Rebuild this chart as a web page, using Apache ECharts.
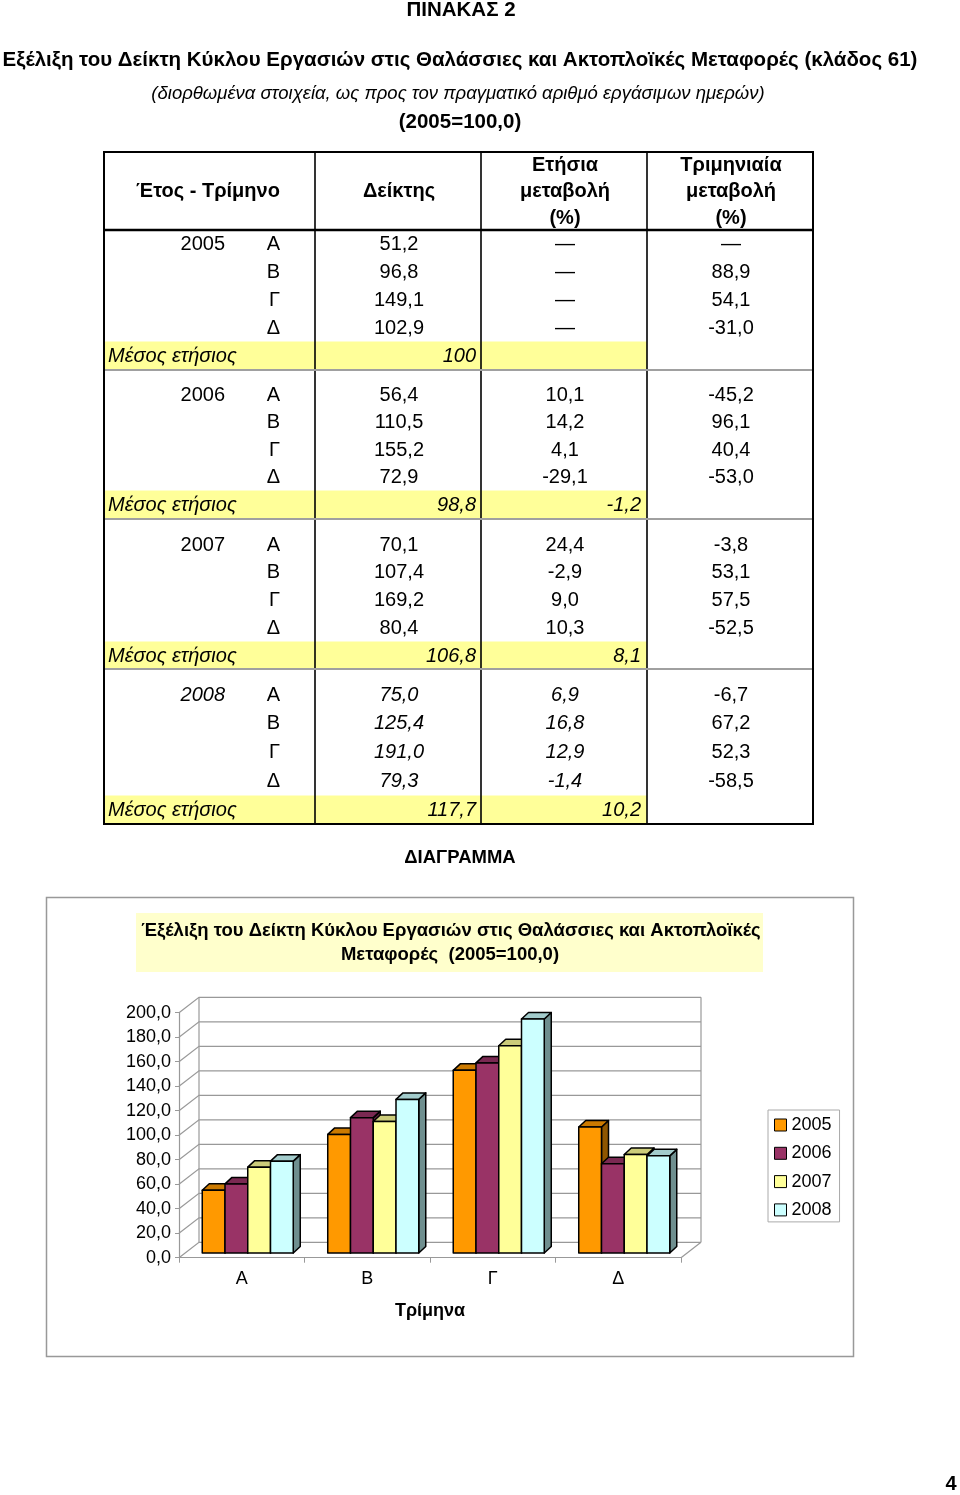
<!DOCTYPE html>
<html>
<head>
<meta charset="utf-8">
<script src="https://cdn.jsdelivr.net/npm/echarts@6/dist/echarts.min.js"></script>
<style>
html,body{margin:0;padding:0;background:#fff;}
#main{width:960px;height:1495px;}
</style>
</head>
<body>
<div id="main"></div>
<script>
// ---------------- DATA ----------------
const years = ['2005', '2006', '2007', '2008'];
const quarters = ['Α', 'Β', 'Γ', 'Δ'];
const index2005 = [51.2, 96.8, 149.1, 102.9];
const index2006 = [56.4, 110.5, 155.2, 72.9];
const index2007 = [70.1, 107.4, 169.2, 80.4];
const index2008 = [75.0, 125.4, 191.0, 79.3];
const annual2005 = [null, null, null, null];
const annual2006 = [10.1, 14.2, 4.1, -29.1];
const annual2007 = [24.4, -2.9, 9.0, 10.3];
const annual2008 = [6.9, 16.8, 12.9, -1.4];
const quarterly2005 = [null, 88.9, 54.1, -31.0];
const quarterly2006 = [-45.2, 96.1, 40.4, -53.0];
const quarterly2007 = [-3.8, 53.1, 57.5, -52.5];
const quarterly2008 = [-6.7, 67.2, 52.3, -58.5];
const meanIndex = [100, 98.8, 106.8, 117.7];
const meanAnnualChange = [null, -1.2, 8.1, 10.2];
const yTicks = [0, 20, 40, 60, 80, 100, 120, 140, 160, 180, 200];

const indexByYear = [index2005, index2006, index2007, index2008];
const annualByYear = [annual2005, annual2006, annual2007, annual2008];
const quarterlyByYear = [quarterly2005, quarterly2006, quarterly2007, quarterly2008];

// ---------------- STYLE ----------------
const FONT = '"Liberation Sans", Arial, sans-serif';
const barColors = [
  { front: '#FF9900', top: '#CC7A00', side: '#8F5600' },
  { front: '#993366', top: '#7A2952', side: '#5C1F3D' },
  { front: '#FFFF99', top: '#CCCC7A', side: '#8F8F5C' },
  { front: '#CCFFFF', top: '#A3CCCC', side: '#6F8F8F' }
];
const TS = 20; // table font size

function fmt(v) { return v.toFixed(1).replace('.', ','); }
function fmtMean(v) { return Number.isInteger(v) ? String(v) : fmt(v); }

function txt(x, y, text, opts) {
  opts = opts || {};
  const align = opts.align || 'center';
  return {
    type: 'text', x: x, y: y, z: 10, silent: true,
    style: {
      text: text, fill: '#000',
      fontSize: opts.size || TS, fontFamily: FONT,
      fontWeight: opts.bold ? 'bold' : 'normal',
      fontStyle: opts.italic ? 'italic' : 'normal',
      align: align, textAlign: align,
      verticalAlign: 'middle', textVerticalAlign: 'middle'
    }
  };
}
function line(x1, y1, x2, y2, color, w) {
  return { type: 'line', z: 5, silent: true, shape: { x1: x1, y1: y1, x2: x2, y2: y2 }, style: { stroke: color, lineWidth: w } };
}
function rect(x, y, w, h, fill, stroke, lw, z) {
  return { type: 'rect', z: z == null ? 1 : z, silent: true, shape: { x: x, y: y, width: w, height: h }, style: { fill: fill || 'none', stroke: stroke || 'none', lineWidth: lw || 0 } };
}

// ---------------- PAGE TEXT + TABLE ----------------
const g = [];
g.push(txt(461, 10, 'ΠΙΝΑΚΑΣ 2', { bold: true, size: 20.5 }));
g.push(txt(460, 60, 'Εξέλιξη του Δείκτη Κύκλου Εργασιών στις Θαλάσσιες και Ακτοπλοϊκές Μεταφορές (κλάδος 61)', { bold: true, size: 20.5 }));
g.push(txt(458, 94, '(διορθωμένα στοιχεία, ως προς τον πραγματικό αριθμό εργάσιμων ημερών)', { italic: true, size: 18.5 }));
g.push(txt(460, 122, '(2005=100,0)', { bold: true, size: 20.5 }));

const TX0 = 104, TX1 = 315, TX2 = 481, TX3 = 647, TX4 = 813;
const TY0 = 152, THEAD = 230, TY1 = 824;
const blockStart = [244, 395, 545, 695];
const blockStep = [28, 27.5, 27.75, 28.75];
const blockEnd = [370, 519, 669, 824];

// yellow bands
for (let b = 0; b < 4; b++) {
  const my = blockStart[b] + 4 * blockStep[b];
  g.push(rect(TX0, my - 14.5, TX3 - TX0, blockEnd[b] - (my - 14.5), '#FFFF99', null, 0, 0));
}
// lines
g.push(rect(TX0, TY0, TX4 - TX0, TY1 - TY0, 'none', '#000', 2, 6));
g.push(line(TX0, THEAD, TX4, THEAD, '#000', 2.5));
[TX1, TX2, TX3].forEach(function (x) { g.push(line(x, TY0, x, TY1, '#000', 1.6)); });
for (let b = 0; b < 3; b++) g.push(line(TX0, blockEnd[b], TX4, blockEnd[b], '#A0A0A0', 2));

// header
g.push(txt(208, 191, 'Έτος - Τρίμηνο', { bold: true }));
g.push(txt(399, 191, 'Δείκτης', { bold: true }));
g.push(txt(565, 165, 'Ετήσια', { bold: true }));
g.push(txt(565, 191, 'μεταβολή', { bold: true }));
g.push(txt(565, 218, '(%)', { bold: true }));
g.push(txt(731, 165, 'Τριμηνιαία', { bold: true }));
g.push(txt(731, 191, 'μεταβολή', { bold: true }));
g.push(txt(731, 218, '(%)', { bold: true }));

for (let b = 0; b < 4; b++) {
  const it = b === 3;
  for (let q = 0; q < 4; q++) {
    const y = blockStart[b] + q * blockStep[b];
    if (q === 0) g.push(txt(225, y, years[b], { align: 'right', italic: it }));
    g.push(txt(280, y, quarters[q], { align: 'right' }));
    g.push(txt(399, y, fmt(indexByYear[b][q]), { italic: it }));
    const a = annualByYear[b][q];
    g.push(txt(565, y, a == null ? '—' : fmt(a), { italic: it && a != null }));
    const qq = quarterlyByYear[b][q];
    g.push(txt(731, y, qq == null ? '—' : fmt(qq)));
  }
  const my = blockStart[b] + 4 * blockStep[b];
  g.push(txt(108, my, 'Μέσος ετήσιος', { align: 'left', italic: true }));
  g.push(txt(476, my, fmtMean(meanIndex[b]), { align: 'right', italic: true }));
  if (meanAnnualChange[b] != null) g.push(txt(641, my, fmt(meanAnnualChange[b]), { align: 'right', italic: true }));
}

g.push(txt(460, 858, 'ΔΙΑΓΡΑΜΜΑ', { bold: true, size: 18.5 }));

// chart frame + title
g.push(rect(46.5, 897.5, 807, 459, 'none', '#999', 1.5, 1));
g.push(rect(136, 913, 627, 59, '#FFFFCC', null, 0, 0));
g.push(txt(451, 931, 'Έξέλιξη του Δείκτη Κύκλου Εργασιών στις Θαλάσσιες και Ακτοπλοϊκές', { bold: true, size: 18.5 }));
g.push(txt(450, 955, 'Μεταφορές  (2005=100,0)', { bold: true, size: 18.5 }));

g.push(txt(951, 1484, '4', { bold: true, size: 20 }));

// ---------------- 3D BARS ----------------
const SHIFT_X = 6, SHIFT_Y = -4.7, DEPTH_X = 7, DEPTH_Y = -6.5;
const WALL_X = 20, WALL_Y = -15.4;

function barRenderer(s) {
  const c = barColors[s];
  return function (params, api) {
    const cat = api.value(0), val = api.value(1);
    const base = api.coord([cat, 0]);
    const top = api.coord([cat, val]);
    const band = api.size([1, 0])[0];
    const bw = band * 0.1813;
    const x0 = base[0] - 2 * bw + s * bw + SHIFT_X;
    const x1 = x0 + bw;
    const yb = base[1] + SHIFT_Y, yt = top[1] + SHIFT_Y;
    const st = { stroke: '#000', lineWidth: 1.5, lineJoin: 'round' };
    return {
      type: 'group',
      children: [
        { type: 'polygon', shape: { points: [[x1, yt], [x1 + DEPTH_X, yt + DEPTH_Y], [x1 + DEPTH_X, yb + DEPTH_Y], [x1, yb]] }, style: Object.assign({ fill: c.side }, st) },
        { type: 'polygon', shape: { points: [[x0, yt], [x0 + DEPTH_X, yt + DEPTH_Y], [x1 + DEPTH_X, yt + DEPTH_Y], [x1, yt]] }, style: Object.assign({ fill: c.top }, st) },
        { type: 'polygon', shape: { points: [[x0, yt], [x1, yt], [x1, yb], [x0, yb]] }, style: Object.assign({ fill: c.front }, st) }
      ]
    };
  };
}

function wallRenderer(params, api) {
  const cs = params.coordSys;
  const xl = cs.x, xr = cs.x + cs.width;
  const v = api.value(1);
  const y = api.coord([0, v])[1];
  const children = [
    { type: 'polyline', shape: { points: [[xl, y], [xl + WALL_X, y + WALL_Y], [xr + WALL_X, y + WALL_Y]] }, style: { stroke: '#999', lineWidth: 1.2, fill: 'none' } }
  ];
  if (params.dataIndex === 0) {
    const yTop = api.coord([0, yTicks[yTicks.length - 1]])[1];
    children.push({ type: 'line', shape: { x1: xl + WALL_X, y1: y + WALL_Y, x2: xl + WALL_X, y2: yTop + WALL_Y }, style: { stroke: '#999', lineWidth: 1.2 } });
    children.push({ type: 'line', shape: { x1: xr + WALL_X, y1: y + WALL_Y, x2: xr + WALL_X, y2: yTop + WALL_Y }, style: { stroke: '#999', lineWidth: 1.2 } });
    children.push({ type: 'line', shape: { x1: xr, y1: y, x2: xr + WALL_X, y2: y + WALL_Y }, style: { stroke: '#999', lineWidth: 1.2 } });
  }
  return { type: 'group', children: children };
}

const series = [{
  type: 'custom', name: 'walls', silent: true, z: 1,
  renderItem: wallRenderer,
  data: yTicks.map(function (v) { return [0, v]; })
}];
for (let s = 0; s < 4; s++) {
  series.push({
    type: 'custom', name: years[s], z: 2 + s,
    itemStyle: { color: barColors[s].front },
    renderItem: barRenderer(s),
    encode: { x: 0, y: 1 },
    data: indexByYear[s].map(function (v, i) { return [i, v]; })
  });
}

const chart = echarts.init(document.getElementById('main'), null, { renderer: 'canvas', width: 960, height: 1495 });
chart.setOption({
  animation: false,
  backgroundColor: '#fff',
  textStyle: { fontFamily: FONT },
  grid: { left: 179, top: 1012.7, width: 502, height: 245, containLabel: false },
  xAxis: {
    type: 'category', data: quarters,
    axisLine: { show: true, lineStyle: { color: '#999', width: 1.2 } },
    axisTick: { show: true, length: 5, lineStyle: { color: '#999' } },
    axisLabel: { fontSize: 18, color: '#000', margin: 12, fontFamily: FONT },
    name: 'Τρίμηνα', nameLocation: 'middle', nameGap: 44,
    nameTextStyle: { fontSize: 18, fontWeight: 'bold', color: '#000', fontFamily: FONT },
    splitLine: { show: false }
  },
  yAxis: {
    type: 'value', min: 0, max: 200, interval: 20,
    axisLine: { show: true, lineStyle: { color: '#999', width: 1.2 } },
    axisTick: { show: true, length: 4, lineStyle: { color: '#999' } },
    axisLabel: { fontSize: 18, color: '#000', margin: 8, fontFamily: FONT, formatter: function (v) { return fmt(v); } },
    splitLine: { show: false }
  },
  legend: {
    orient: 'vertical', left: 768, top: 1110,
    data: years,
    icon: 'rect', itemWidth: 12, itemHeight: 12, itemGap: 10.3,
    padding: [6, 8, 3, 6],
    borderColor: '#aaa', borderWidth: 1,
    itemStyle: { borderColor: '#000', borderWidth: 1 },
    textStyle: { fontSize: 18, color: '#000', fontFamily: FONT },
    selectedMode: false
  },
  series: series,
  graphic: g
});
</script>
</body>
</html>
